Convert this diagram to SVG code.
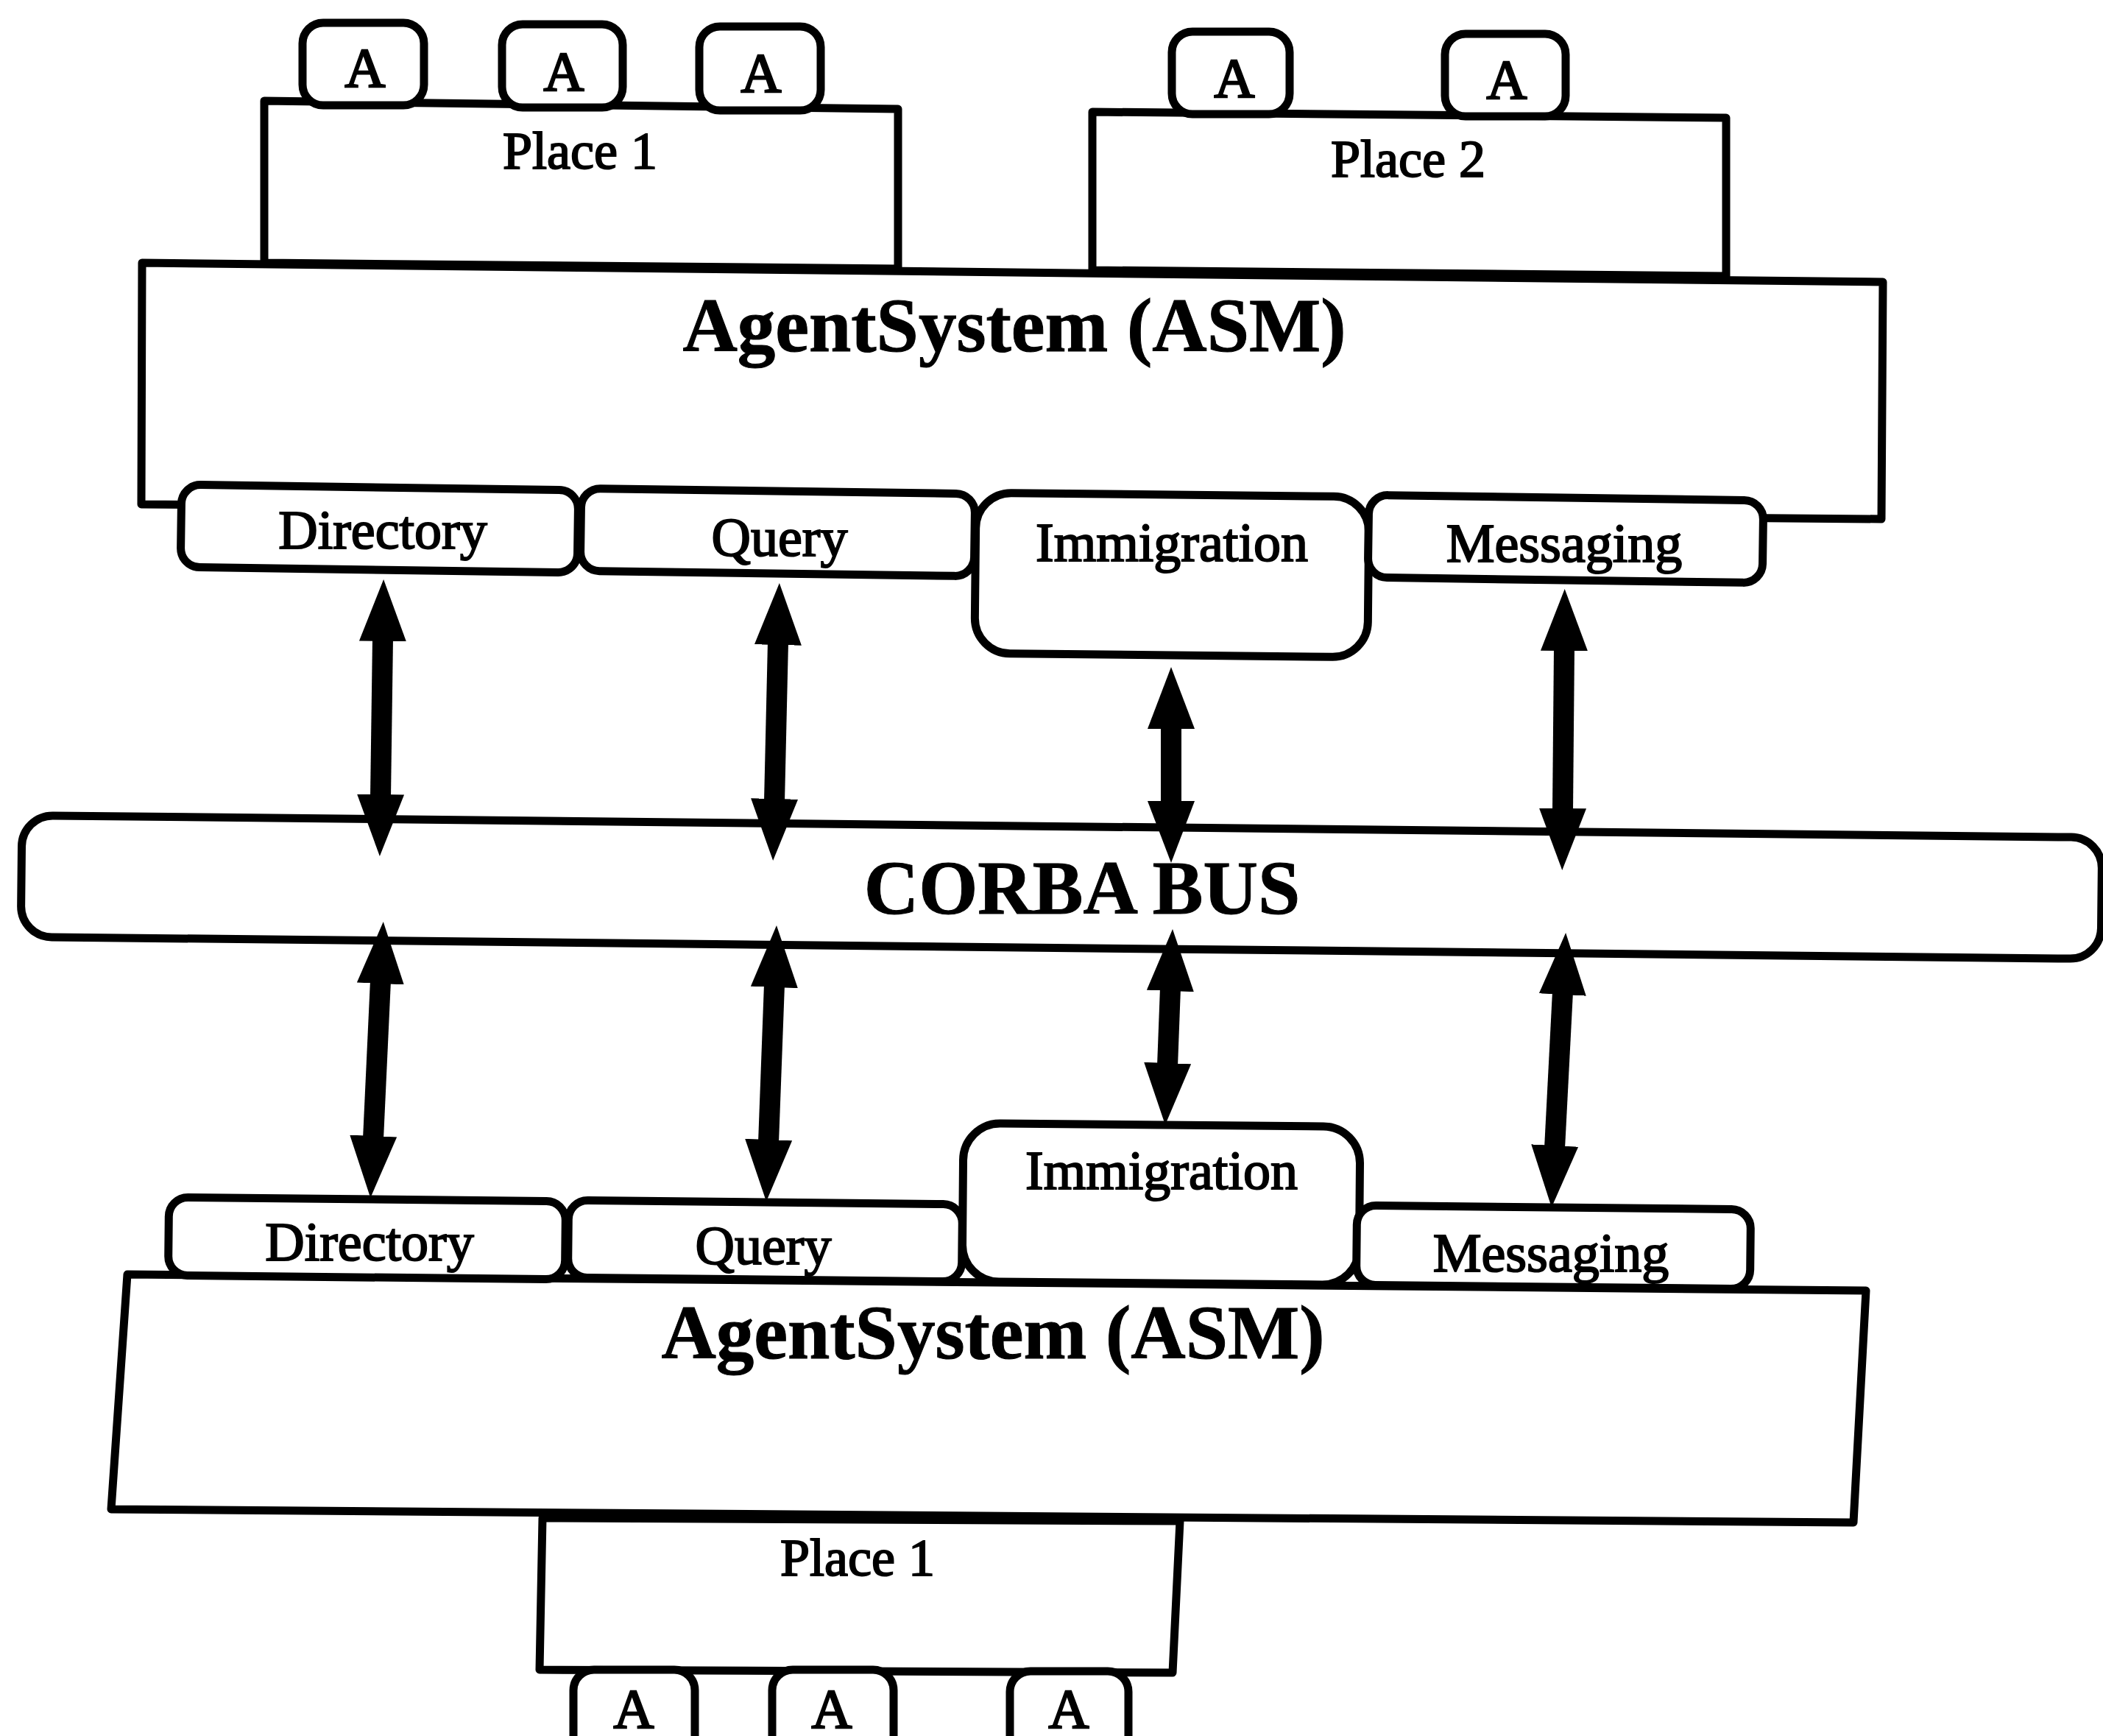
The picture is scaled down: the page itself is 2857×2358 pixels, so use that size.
<svg xmlns="http://www.w3.org/2000/svg" width="2857" height="2358" viewBox="0 0 2857 2358">
  <style>
    .box { fill: #fff; stroke: #000; stroke-width: 11; stroke-linejoin: round; }
    .lbl { font-family: "Liberation Serif", "Times New Roman", serif; font-size: 74px; text-anchor: middle; fill: #000; stroke: #000; stroke-width: 2; }
    .agent { font-size: 76px; stroke-width: 2.5; }
    .place { font-size: 72px; }
    .title { font-weight: bold; font-size: 103px; stroke-width: 1; }
    .link { stroke: #000; stroke-width: 28; fill: none; marker-start: url(#head); marker-end: url(#head); }
  </style>
  <defs>
    <marker id="head" markerUnits="userSpaceOnUse" markerWidth="84" markerHeight="66" viewBox="0 -33 84 66" refX="4" refY="0" orient="auto-start-reverse">
      <path d="M0,-32 L84,0 L0,32 z" fill="#000"/>
    </marker>
  </defs>
  <rect width="2857" height="2358" fill="#fff"/>

  <!-- upper agent system -->
  <g id="asm-top">
    <polygon class="box" points="193,357 2558,383 2556,705 192,685"/>
    <text class="lbl title" x="1378" y="477">AgentSystem (ASM)</text>
  </g>
  <g id="place1-top">
    <polygon class="box" points="359,137 1220,148 1220,365 359,357"/>
    <text class="lbl place" x="788" y="229">Place 1</text>
  </g>
  <g id="place2-top">
    <polygon class="box" points="1484,152 2345,160 2345,375 1484,367"/>
    <text class="lbl place" x="1913" y="240">Place 2</text>
  </g>
  <g id="agent-t1"><rect class="box" x="411" y="31" width="165" height="112" rx="28"/><text class="lbl agent" x="496" y="118">A</text></g>
  <g id="agent-t2"><rect class="box" x="682" y="33" width="164" height="113" rx="28"/><text class="lbl agent" x="766" y="123">A</text></g>
  <g id="agent-t3"><rect class="box" x="950" y="36" width="165" height="114" rx="28"/><text class="lbl agent" x="1034" y="125">A</text></g>
  <g id="agent-t4"><rect class="box" x="1592" y="43" width="160" height="112" rx="28"/><text class="lbl agent" x="1677" y="132">A</text></g>
  <g id="agent-t5"><rect class="box" x="1963" y="46" width="164" height="112" rx="28"/><text class="lbl agent" x="2047" y="134">A</text></g>

  <g id="svc-dir-top"><rect class="box" x="246" y="662" width="539" height="112" rx="26" transform="rotate(0.8 515 718)"/><text class="lbl" x="520" y="745">Directory</text></g>
  <g id="svc-query-top"><rect class="box" x="789" y="667" width="535" height="112" rx="26" transform="rotate(0.8 1056 723)"/><text class="lbl" x="1059" y="755">Query</text></g>
  <g id="svc-imm-top"><rect class="box" x="1325" y="672" width="534" height="218" rx="48" transform="rotate(0.6 1592 781)"/><text class="lbl" x="1592" y="762">Immigration</text></g>
  <g id="svc-msg-top"><rect class="box" x="1859" y="676" width="536" height="112" rx="26" transform="rotate(0.8 2127 732)"/><text class="lbl" x="2125" y="763">Messaging</text></g>

  <!-- bus -->
  <g id="corba-bus">
    <rect class="box" x="29" y="1122.5" width="2826" height="165" rx="42" transform="rotate(0.61 1442 1205)"/>
    <text class="lbl title" x="1470" y="1241" font-size="106">CORBA BUS</text>
  </g>

  <!-- lower agent system -->
  <g id="asm-bottom">
    <polygon class="box" points="173,1731 2535,1753 2518,2068 151,2050"/>
    <text class="lbl title" x="1349" y="1845">AgentSystem (ASM)</text>
  </g>
  <g id="svc-dir-bottom"><rect class="box" x="229" y="1629" width="539" height="106" rx="26" transform="rotate(0.6 498 1682)"/><text class="lbl" x="502" y="1712">Directory</text></g>
  <g id="svc-query-bottom"><rect class="box" x="772" y="1633" width="535" height="105" rx="26" transform="rotate(0.6 1040 1686)"/><text class="lbl" x="1037" y="1717">Query</text></g>
  <g id="svc-imm-bottom"><rect class="box" x="1308" y="1528" width="539" height="215" rx="50" transform="rotate(0.5 1578 1636)"/><text class="lbl" x="1578" y="1615">Immigration</text></g>
  <g id="svc-msg-bottom"><rect class="box" x="1843" y="1640" width="535" height="108" rx="26" transform="rotate(0.6 2110 1694)"/><text class="lbl" x="2107" y="1727">Messaging</text></g>

  <g id="place1-bottom">
    <polygon class="box" points="737,2062 1603,2066 1593,2272 733,2268"/>
    <text class="lbl place" x="1165" y="2140">Place 1</text>
  </g>
  <g id="agent-b1"><rect class="box" x="779" y="2268" width="165" height="130" rx="28"/><text class="lbl agent" x="861" y="2347">A</text></g>
  <g id="agent-b2"><rect class="box" x="1049" y="2268" width="165" height="130" rx="28"/><text class="lbl agent" x="1130" y="2347">A</text></g>
  <g id="agent-b3"><rect class="box" x="1372" y="2270" width="161" height="130" rx="28"/><text class="lbl agent" x="1452" y="2347">A</text></g>

  <!-- two-way links between services and the bus -->
  <g id="connectors">
    <line class="link" x1="520" y1="867" x2="517" y2="1083"/>
    <line class="link" x1="1057" y1="872" x2="1052" y2="1089"/>
    <line class="link" x1="1591" y1="986" x2="1591" y2="1092"/>
    <line class="link" x1="2125" y1="880" x2="2123" y2="1102"/>
    <line class="link" x1="517" y1="1332" x2="507" y2="1547"/>
    <line class="link" x1="1052" y1="1337" x2="1044" y2="1552"/>
    <line class="link" x1="1590" y1="1342" x2="1586" y2="1448"/>
    <line class="link" x1="2123" y1="1347" x2="2112" y2="1560"/>
  </g>
</svg>
